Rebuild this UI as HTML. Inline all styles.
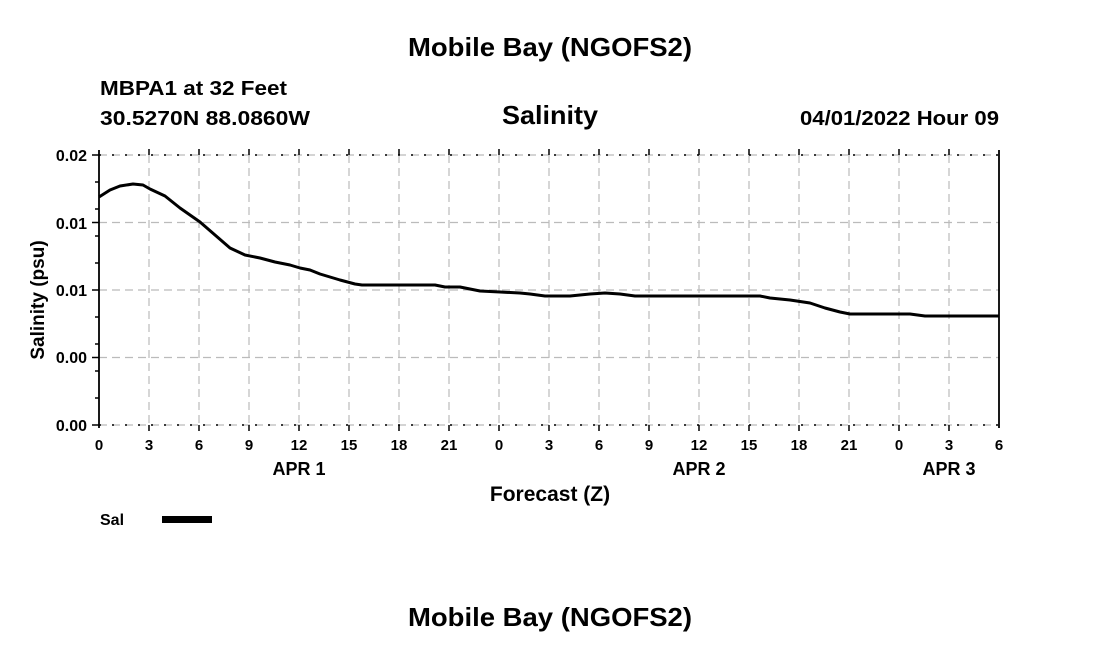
<!DOCTYPE html>
<html><head><style>
body{margin:0;background:#fff;}
svg{display:block;font-family:"Liberation Sans",Arial,sans-serif;font-weight:bold;}
</style></head><body>
<svg width="1100" height="650" viewBox="0 0 1100 650">
<text x="550" y="56" font-size="26" text-anchor="middle" textLength="284" lengthAdjust="spacingAndGlyphs">Mobile Bay (NGOFS2)</text>
<text x="100" y="95" font-size="20" textLength="187" lengthAdjust="spacingAndGlyphs">MBPA1 at 32 Feet</text>
<text x="100" y="125" font-size="20" textLength="210" lengthAdjust="spacingAndGlyphs">30.5270N  88.0860W</text>
<text x="550" y="124" font-size="26" text-anchor="middle" textLength="96" lengthAdjust="spacingAndGlyphs">Salinity</text>
<text x="999" y="125" font-size="20" text-anchor="end" textLength="199" lengthAdjust="spacingAndGlyphs">04/01/2022 Hour 09</text>
<g stroke="#bbb" stroke-width="1.2" stroke-dasharray="8,5">
<line x1="99" y1="155" x2="999" y2="155"/><line x1="99" y1="425" x2="999" y2="425"/>
<line x1="99" y1="222.5" x2="999" y2="222.5"/><line x1="99" y1="290" x2="999" y2="290"/><line x1="99" y1="357.5" x2="999" y2="357.5"/>
<line x1="149" y1="155" x2="149" y2="425"/><line x1="199" y1="155" x2="199" y2="425"/><line x1="249" y1="155" x2="249" y2="425"/><line x1="299" y1="155" x2="299" y2="425"/><line x1="349" y1="155" x2="349" y2="425"/><line x1="399" y1="155" x2="399" y2="425"/><line x1="449" y1="155" x2="449" y2="425"/><line x1="499" y1="155" x2="499" y2="425"/><line x1="549" y1="155" x2="549" y2="425"/><line x1="599" y1="155" x2="599" y2="425"/><line x1="649" y1="155" x2="649" y2="425"/><line x1="699" y1="155" x2="699" y2="425"/><line x1="749" y1="155" x2="749" y2="425"/><line x1="799" y1="155" x2="799" y2="425"/><line x1="849" y1="155" x2="849" y2="425"/><line x1="899" y1="155" x2="899" y2="425"/><line x1="949" y1="155" x2="949" y2="425"/>
</g>
<line x1="99" y1="155" x2="999" y2="155" stroke="#000" stroke-width="1.5" stroke-dasharray="2,11"/>
<line x1="99" y1="425" x2="999" y2="425" stroke="#000" stroke-width="1.5" stroke-dasharray="2,11"/>
<g stroke="#000" stroke-width="1.8" fill="none">
<line x1="99" y1="150" x2="99" y2="428"/><line x1="999" y1="150" x2="999" y2="428"/>
</g>
<g stroke="#000" stroke-width="1.5">
<line x1="92" y1="155" x2="99" y2="155"/><line x1="92" y1="222.5" x2="99" y2="222.5"/><line x1="92" y1="290" x2="99" y2="290"/><line x1="92" y1="357.5" x2="99" y2="357.5"/><line x1="92" y1="425" x2="99" y2="425"/>
<line x1="95" y1="182" x2="99" y2="182"/><line x1="95" y1="209" x2="99" y2="209"/><line x1="95" y1="236" x2="99" y2="236"/><line x1="95" y1="263" x2="99" y2="263"/><line x1="95" y1="317" x2="99" y2="317"/><line x1="95" y1="344" x2="99" y2="344"/><line x1="95" y1="371" x2="99" y2="371"/><line x1="95" y1="398" x2="99" y2="398"/>
</g>
<g stroke="#000" stroke-width="1.5">
<line x1="149" y1="149" x2="149" y2="155"/><line x1="199" y1="149" x2="199" y2="155"/><line x1="249" y1="149" x2="249" y2="155"/><line x1="299" y1="149" x2="299" y2="155"/><line x1="349" y1="149" x2="349" y2="155"/><line x1="399" y1="149" x2="399" y2="155"/><line x1="449" y1="149" x2="449" y2="155"/><line x1="499" y1="149" x2="499" y2="155"/><line x1="549" y1="149" x2="549" y2="155"/><line x1="599" y1="149" x2="599" y2="155"/><line x1="649" y1="149" x2="649" y2="155"/><line x1="699" y1="149" x2="699" y2="155"/><line x1="749" y1="149" x2="749" y2="155"/><line x1="799" y1="149" x2="799" y2="155"/><line x1="849" y1="149" x2="849" y2="155"/><line x1="899" y1="149" x2="899" y2="155"/><line x1="949" y1="149" x2="949" y2="155"/>
<line x1="149" y1="425" x2="149" y2="431"/><line x1="199" y1="425" x2="199" y2="431"/><line x1="249" y1="425" x2="249" y2="431"/><line x1="299" y1="425" x2="299" y2="431"/><line x1="349" y1="425" x2="349" y2="431"/><line x1="399" y1="425" x2="399" y2="431"/><line x1="449" y1="425" x2="449" y2="431"/><line x1="499" y1="425" x2="499" y2="431"/><line x1="549" y1="425" x2="549" y2="431"/><line x1="599" y1="425" x2="599" y2="431"/><line x1="649" y1="425" x2="649" y2="431"/><line x1="699" y1="425" x2="699" y2="431"/><line x1="749" y1="425" x2="749" y2="431"/><line x1="799" y1="425" x2="799" y2="431"/><line x1="849" y1="425" x2="849" y2="431"/><line x1="899" y1="425" x2="899" y2="431"/><line x1="949" y1="425" x2="949" y2="431"/>
</g>
<g font-size="16" text-anchor="end">
<text x="87" y="161">0.02</text><text x="87" y="229">0.01</text><text x="87" y="296">0.01</text><text x="87" y="363">0.00</text><text x="87" y="431">0.00</text>
</g>
<g font-size="15" text-anchor="middle">
<text x="99" y="450">0</text><text x="149" y="450">3</text><text x="199" y="450">6</text><text x="249" y="450">9</text><text x="299" y="450">12</text><text x="349" y="450">15</text><text x="399" y="450">18</text><text x="449" y="450">21</text><text x="499" y="450">0</text><text x="549" y="450">3</text><text x="599" y="450">6</text><text x="649" y="450">9</text><text x="699" y="450">12</text><text x="749" y="450">15</text><text x="799" y="450">18</text><text x="849" y="450">21</text><text x="899" y="450">0</text><text x="949" y="450">3</text><text x="999" y="450">6</text>
<text x="299" y="475" font-size="18">APR 1</text><text x="699" y="475" font-size="18">APR 2</text><text x="949" y="475" font-size="18">APR 3</text>
<text x="550" y="501" font-size="21">Forecast (Z)</text>
</g>
<text transform="translate(44,300) rotate(-90)" font-size="19" text-anchor="middle">Salinity (psu)</text>
<text x="100" y="525" font-size="16">Sal</text>
<rect x="162" y="516" width="50" height="7" fill="#000"/>
<polyline fill="none" stroke="#000" stroke-width="3" stroke-linejoin="round" points="99,197 110,190 120,186 133,184 143,185 150,189 165,196 180,208 200,222 215,235 230,248 245,255 260,258 275,262 290,265 300,268 310,270 320,274 340,280 355,284 362,285 380,285 435,285 445,287 460,287 480,291 500,292 520,293 530,294 545,296 570,296 590,294 605,293 620,294 635,296 760,296 770,298 790,300 810,303 825,308 840,312 850,314 910,314 925,316 999,316"/>
<text x="550" y="626" font-size="26" text-anchor="middle" textLength="284" lengthAdjust="spacingAndGlyphs">Mobile Bay (NGOFS2)</text>
</svg>
</body></html>
